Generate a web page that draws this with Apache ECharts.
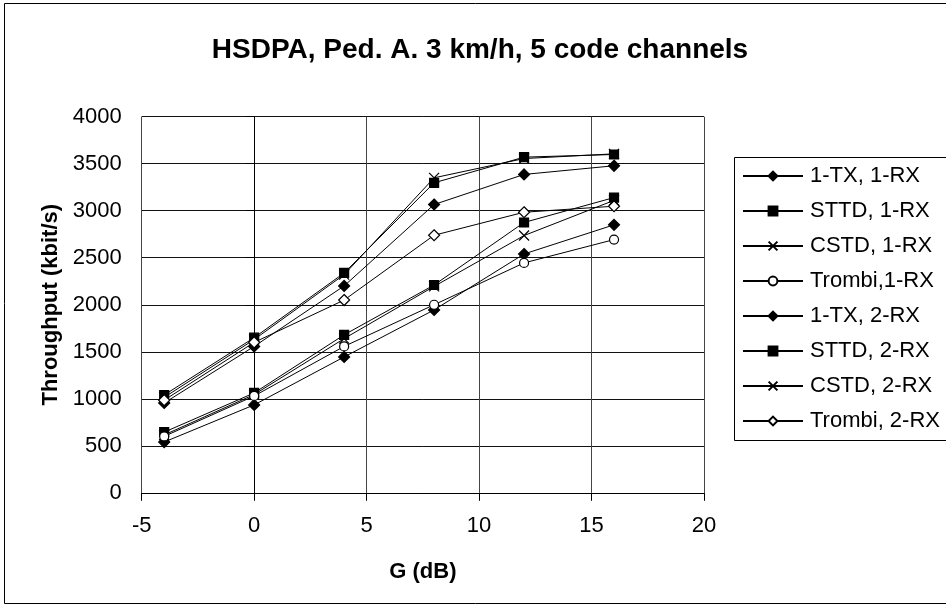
<!DOCTYPE html>
<html>
<head>
<meta charset="utf-8">
<title>HSDPA throughput</title>
<script src="https://cdn.jsdelivr.net/npm/echarts@6/dist/echarts.min.js"></script>
<style>
  html, body { margin: 0; padding: 0; background: #fff; }
  #chart { width: 946px; height: 607px; }
</style>
</head>
<body>
<div id="chart"></div>
<script>
// Geometry factor G (dB)
const gainDb = [-4, 0, 4, 8, 12, 16];

// Throughput (kbit/s) per scheme
const tx1Rx1     = [540, 935, 1445, 1945, 2540, 2850];
const sttdRx1    = [645, 1062, 1680, 2210, 2875, 3140];
const cstdRx1    = [615, 1045, 1640, 2195, 2736, 3110];
const trombiRx1  = [600, 1030, 1557, 2000, 2445, 2693];
const tx1Rx2     = [955, 1557, 2200, 3066, 3386, 3478];
const sttdRx2    = [1040, 1650, 2338, 3297, 3570, 3598];
const cstdRx2    = [1015, 1630, 2320, 3350, 3555, 3605];
const trombiRx2  = [985, 1600, 2050, 2739, 2984, 3048];

const seriesNames = [
  '1-TX, 1-RX', 'STTD, 1-RX', 'CSTD, 1-RX', 'Trombi,1-RX',
  '1-TX, 2-RX', 'STTD, 2-RX', 'CSTD, 2-RX', 'Trombi, 2-RX'
];
const seriesValues = [tx1Rx1, sttdRx1, cstdRx1, trombiRx1, tx1Rx2, sttdRx2, cstdRx2, trombiRx2];

const xTicks = { min: -5, max: 20, interval: 5 };
const yTicks = { min: 0, max: 4000, interval: 500 };

const FONT = 'Liberation Sans, Arial, sans-serif';
const CROSS = 'path://M0,0L10,10M10,0L0,10';

// marker style per scheme
const markers = {
  '1-TX':   { symbol: 'diamond', size: 11, fill: '#000' },
  'STTD':   { symbol: 'rect', size: 9, fill: '#000' },
  'CSTD':   { symbol: CROSS, size: 10, fill: '#000' },
  'Trombi1':{ symbol: 'circle', size: 9, fill: '#fff' },
  'Trombi2':{ symbol: 'diamond', size: 11, fill: '#fff' }
};
const markerKeys = ['1-TX', 'STTD', 'CSTD', 'Trombi1', '1-TX', 'STTD', 'CSTD', 'Trombi2'];

const series = seriesNames.map((name, i) => {
  const m = markers[markerKeys[i]];
  return {
    name: name,
    type: 'line',
    data: gainDb.map((g, j) => [g, seriesValues[i][j]]),
    symbol: m.symbol,
    symbolSize: m.size,
    showAllSymbol: true,
    lineStyle: { color: '#000', width: 1 },
    itemStyle: { color: m.fill, borderColor: '#000', borderWidth: 1.2 },
    emphasis: { disabled: true },
    animation: false
  };
});

const chart = echarts.init(document.getElementById('chart'), null, { renderer: 'canvas' });
chart.setOption({
  backgroundColor: '#fff',
  animation: false,
  title: {
    text: 'HSDPA, Ped. A. 3 km/h, 5 code channels',
    left: 475,
    top: 31,
    textAlign: 'center',
    textStyle: { fontFamily: FONT, fontSize: 28, fontWeight: 'bold', color: '#000' }
  },
  grid: { left: 141.7, right: 946 - 704, top: 116.7, bottom: 607 - 492.8, containLabel: false },
  legend: {
    orient: 'vertical',
    left: 734,
    top: 157,
    padding: [8, 10, 6, 8],
    itemWidth: 60,
    itemHeight: 11,
    itemGap: 13,
    borderWidth: 0,
    selectedMode: false,
    textStyle: { fontFamily: FONT, fontSize: 22, color: '#000', lineHeight: 22, padding: [0, 0, 0, 2] },
    data: seriesNames
  },
  xAxis: {
    type: 'value',
    min: xTicks.min, max: xTicks.max, interval: xTicks.interval,
    name: 'G (dB)',
    nameLocation: 'middle',
    nameGap: 68,
    nameTextStyle: { fontFamily: FONT, fontSize: 22, fontWeight: 'bold', color: '#000' },
    axisLine: { onZero: false, lineStyle: { color: '#000', width: 1 } },
    axisTick: { show: true, length: 8, inside: false, lineStyle: { color: '#000' } },
    axisLabel: { fontFamily: FONT, fontSize: 22, color: '#000', margin: 22 },
    splitLine: { show: true, lineStyle: { color: '#444', width: 1 } }
  },
  yAxis: {
    type: 'value',
    min: yTicks.min, max: yTicks.max, interval: yTicks.interval,
    name: 'Throughput (kbit/s)',
    nameLocation: 'middle',
    nameGap: 80,
    nameRotate: 90,
    nameTextStyle: { fontFamily: FONT, fontSize: 22, fontWeight: 'bold', color: '#000' },
    axisLine: { show: true, lineStyle: { color: '#000', width: 1 } },
    axisTick: { show: true, length: 8, lineStyle: { color: '#000' } },
    axisLabel: { fontFamily: FONT, fontSize: 22, color: '#000', margin: 20, formatter: v => String(v) },
    splitLine: { show: true, lineStyle: { color: '#111', width: 1 } }
  },
  graphic: [
    {
      // outer chart frame, open past the right edge
      type: 'rect',
      silent: true,
      z: -10,
      shape: { x: 4.5, y: 3.5, width: 960, height: 600 },
      style: { fill: 'none', stroke: '#000', lineWidth: 1 }
    },
    {
      // legend frame, continuing past the right edge
      type: 'rect',
      silent: true,
      z: -5,
      shape: { x: 734.5, y: 157.5, width: 260, height: 283 },
      style: { fill: '#fff', stroke: '#000', lineWidth: 1 }
    }
  ],
  series: series
});
</script>
</body>
</html>
